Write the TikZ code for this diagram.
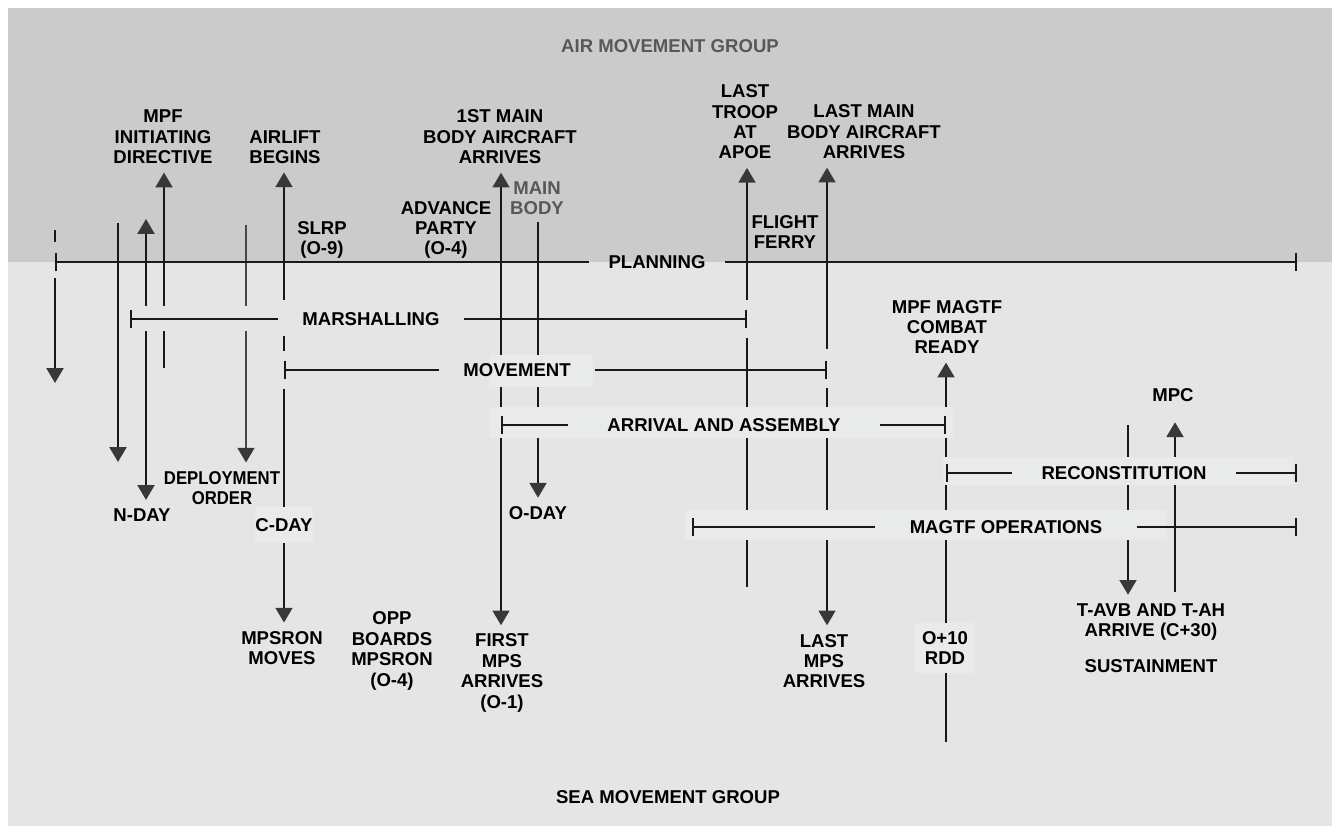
\documentclass[tikz,border=0pt]{standalone}
\usepackage{fontspec}
\setmainfont{Liberation Sans}
\usetikzlibrary{arrows.meta}
\definecolor{airgray}{HTML}{CBCBCB}
\definecolor{seagray}{HTML}{E5E5E5}
\definecolor{boxgray}{HTML}{E8EBEA}
\definecolor{tipgray}{HTML}{3A3737}
\definecolor{txtgray}{HTML}{585858}
\tikzstyle{lbl} = [font=\bfseries\fontsize{13.2}{14.5}\selectfont, align=center, inner xsep=0pt, inner ysep=6pt, text=black]
\tikzstyle{phlbl} = [lbl, inner ysep=2pt]
\tikzstyle{phase} = [line width=1.5pt, draw=black!90]
\tikzstyle{evt} = [phase, -{Triangle[width=12pt,length=10.5pt,color=tipgray]}]
\tikzstyle{evtboth} = [phase, {Triangle[width=12pt,length=10.5pt,color=tipgray]}-{Triangle[width=12pt,length=10.5pt,color=tipgray]}]
\tikzstyle{tickl} = [phase, {Bar[width=13pt]}-]
\tikzstyle{tickr} = [phase, -{Bar[width=13pt]}]
\newcommand{\narrow}[1]{\scalebox{0.9}[1]{#1}}

\begin{document}
\begin{tikzpicture}[x=0.025cm, y=-0.025cm]
    \useasboundingbox (0,0) rectangle (1332,826);
    \fill[airgray] (8,8) rectangle (1332,262);
    \fill[seagray] (8,262) rectangle (1332,826);

    \node[lbl, text=txtgray] (airgrp) at (670,46) {AIR MOVEMENT GROUP};
    \node[lbl] (seagrp) at (668,797) {SEA MOVEMENT GROUP};

    \node[lbl] (mpfid) at (163,137) {MPF\\INITIATING\\DIRECTIVE};
    \node[lbl] (airlift) at (285,147) {AIRLIFT\\BEGINS};
    \node[lbl] (slrp) at (322,240) {SLRP\\(O-9)};
    \node[lbl] (advp) at (446,230) {ADVANCE\\PARTY\\(O-4)};
    \node[lbl] (firstac) at (500,137) {1ST MAIN\\BODY AIRCRAFT\\ARRIVES};
    \node[lbl, text=txtgray] (mainbody) at (537,198) {MAIN\\BODY};
    \node[lbl] (lasttroop) at (745,122) {LAST\\TROOP\\AT\\APOE};
    \node[lbl] (lastac) at (864,132) {LAST MAIN\\BODY AIRCRAFT\\ARRIVES};
    \node[lbl] (ferry) at (785,232) {FLIGHT\\FERRY};
    \node[lbl] (combat) at (947,327) {MPF MAGTF\\COMBAT\\READY};
    \node[lbl] (mpc) at (1173,395) {MPC};

    \node[lbl] (nday) at (142,515) {N-DAY};
    \node[lbl] (deploy) at (222,488) {\narrow{DEPLOYMENT}\\\narrow{ORDER}};
    \node[lbl, fill=boxgray, minimum width=1.45cm, minimum height=0.9cm] (cday) at (284,525) {C-DAY};
    \node[lbl] (mpsron) at (282,648) {MPSRON\\MOVES};
    \node[lbl] (opp) at (392,651) {OPP\\BOARDS\\MPSRON\\(O-4)};
    \node[lbl] (oday) at (538,513) {O-DAY};
    \node[lbl] (firstmps) at (502,673) {FIRST\\MPS\\ARRIVES\\(O-1)};
    \node[lbl] (lastmps) at (824,661) {LAST\\MPS\\ARRIVES};
    \node[lbl, fill=boxgray, minimum width=1.5cm, minimum height=1.2cm] (rdd) at (945,648) {O+10\\RDD};
    \node[lbl] (tavb) at (1151,622) {T-AVB AND T-AH\\ARRIVE (C+30)};
    \node[lbl] (sust) at (1151,666) {SUSTAINMENT};

    \coordinate (lead-a) at (55,230);
    \coordinate (lead-b) at (55,242);
    \coordinate (lead-c) at (55,278);
    \coordinate (lead-d) at (55,383);
    \coordinate (ev-a) at (118,223);
    \coordinate (ev-b) at (118,462);
    \coordinate (nday-up) at (146,219);
    \coordinate (mpfid-foot) at (164,368);
    \coordinate (deploy-top) at (246,225);
    \coordinate (firstac-x) at (501,0);
    \coordinate (oday-top) at (538,222);
    \coordinate (lasttroop-foot) at (747,587);
    \coordinate (lastac-x) at (827,0);
    \coordinate (rdd-foot) at (946,742);
    \coordinate (tavb-top) at (1128,425);
    \coordinate (mpc-foot) at (1175,592);
    \coordinate (marsh-start) at (130,319);
    \coordinate (magtf-start) at (692,527);
    \coordinate (rim) at (1297,0);

    \draw[phase] (lead-a) -- (lead-b);
    \draw[evt] (lead-c) -- (lead-d);
    \draw[evt] (ev-a) -- (ev-b);
    \draw[evtboth] (nday-up) -- (nday-up |- nday.north);
    \draw[evt] (mpfid-foot) -- (mpfid-foot |- mpfid.south);
    \draw[evt, draw=black!72] (deploy-top) -- (deploy-top |- deploy.north);
    \draw[evt] (cday.north) -- (cday.north |- airlift.south);
    \draw[evt] (cday.south) -- (cday.south |- mpsron.north);
    \draw[evtboth] (firstac-x |- firstac.south) -- (firstac-x |- firstmps.north);
    \draw[evt] (oday-top) -- (oday-top |- oday.north);
    \draw[evt] (lasttroop-foot) -- (lasttroop-foot |- lasttroop.south);
    \draw[evtboth] (lastac-x |- lastac.south) -- (lastac-x |- lastmps.north);
    \draw[evt] (rdd-foot |- rdd.north) -- (rdd-foot |- combat.south);
    \draw[phase] (rdd-foot |- rdd.south) -- (rdd-foot);
    \draw[evt] (tavb-top) -- (tavb-top |- tavb.north);
    \draw[evt, shorten >=8.5pt] (mpc-foot) -- (mpc-foot |- mpc.south);

    \fill[seagray] (125,306) rectangle (278,331);
    \fill[seagray] (278,300) rectangle (290,336);
    \fill[seagray] (741,300) rectangle (753,338);
    \fill[seagray] (278,351) rectangle (290,389);
    \fill[seagray] (821,349) rectangle (833,388);
    \fill[boxgray] (490,355) rectangle (593,387);
    \fill[boxgray] (490,407) rectangle (953,438);
    \fill[boxgray] (943,457) rectangle (1293,485);
    \fill[boxgray] (685,510) rectangle (1167,540);

    \node[phlbl, inner xsep=13.9pt] (planning) at (657,262) {PLANNING};
    \node[phlbl, inner xsep=17.4pt] (marshalling) at (371,319) {MARSHALLING};
    \node[phlbl, inner xsep=17pt] (movement) at (517,370) {MOVEMENT};
    \node[phlbl, inner xsep=28pt] (arrival) at (724,425) {ARRIVAL AND ASSEMBLY};
    \node[phlbl, inner xsep=20.6pt] (recon) at (1124,473) {RECONSTITUTION};
    \node[phlbl, inner xsep=24.5pt] (magtf) at (1006,527) {MAGTF OPERATIONS};

    \draw[tickl] (lead-a |- planning.west) -- (planning.west);
    \draw[tickr] (planning.east) -- (rim |- planning.east);
    \draw[tickl] (marsh-start) -- (marshalling.west);
    \draw[tickr] (marshalling.east) -- (lasttroop-foot |- marshalling.east);
    \draw[tickl] (cday.north |- movement.west) -- (movement.west);
    \draw[tickr] (movement.east) -- (lastac-x |- movement.east);
    \draw[tickl] (firstac-x |- arrival.west) -- (arrival.west);
    \draw[tickr] (arrival.east) -- (rdd-foot |- arrival.east);
    \draw[tickl] (rdd-foot |- recon.west) -- (recon.west);
    \draw[tickr] (recon.east) -- (rim |- recon.east);
    \draw[tickl] (magtf-start) -- (magtf.west);
    \draw[tickr] (magtf.east) -- (rim |- magtf.east);

\end{tikzpicture}
\end{document}
